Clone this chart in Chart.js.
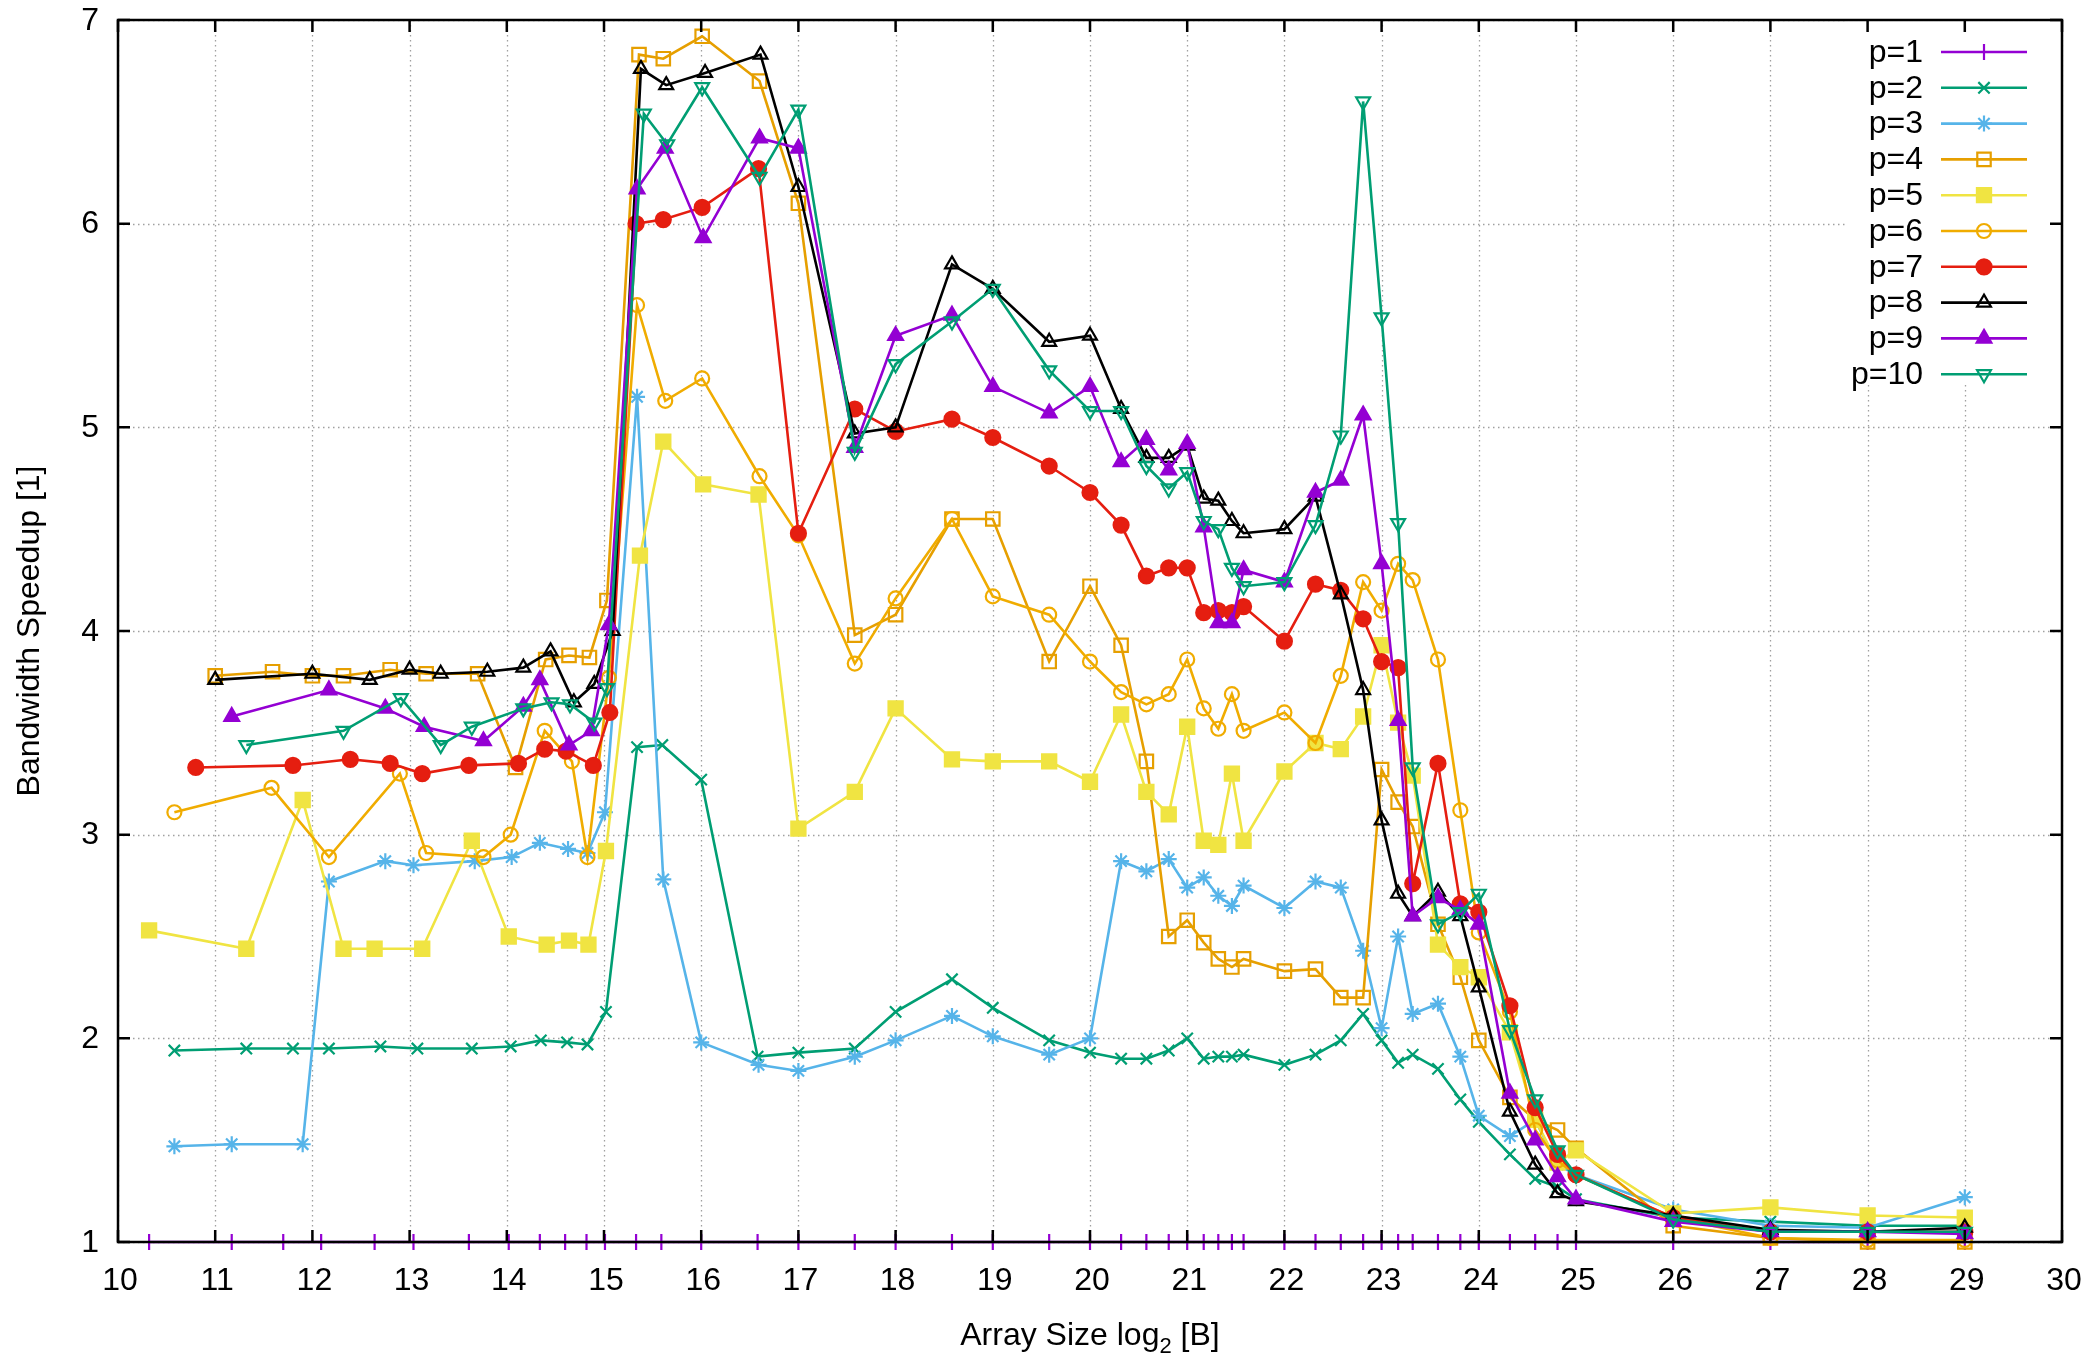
<!DOCTYPE html>
<html>
<head>
<meta charset="utf-8">
<title>Bandwidth Speedup</title>
<script src="https://cdn.jsdelivr.net/npm/chart.js@4.4.1/dist/chart.umd.min.js"></script>
<style>
    html, body { margin: 0; padding: 0; background: #fff; }
    #wrap { width: 2090px; height: 1354px; }
</style>
</head>
<body>
<div id="wrap"><canvas id="speedupChart" width="2090" height="1354"></canvas></div>
<script>
// x values are log2 of the array size in bytes
const sharedSizes = [17.00, 17.58, 18.00, 18.58, 19.00, 19.58, 20.00, 20.32, 20.58, 20.81,
    21.00, 21.17, 21.32, 21.46, 21.58, 22.00, 22.32, 22.58, 22.81, 23.00, 23.17, 23.32,
    23.58, 23.81, 24.00, 24.32, 24.58, 24.81, 25.00, 26, 27, 28, 29];

const sizesP1 = [10.32, 11.17, 11.70, 12.09, 12.64, 13.04, 13.61, 14.02, 14.34, 14.60, 14.82,
    15.01, 15.33, 15.59, 16.00, 16.58, ...sharedSizes];
const speedP1 = [1, 1, 1, 1, 1, 1, 1, 1, 1, 1, 1, 1, 1, 1, 1, 1,
    1, 1, 1, 1, 1, 1, 1, 1, 1, 1, 1, 1, 1, 1, 1, 1, 1, 1, 1, 1, 1, 1, 1, 1, 1, 1, 1, 1, 1, 1, 1, 1, 1];

const sizesP2 = [10.58, 11.32, 11.80, 12.17, 12.70, 13.08, 13.64, 14.04, 14.35, 14.62, 14.83,
    15.02, 15.34, 15.60, 16.00, 16.58, ...sharedSizes];
const speedP2 = [1.94, 1.95, 1.95, 1.95, 1.96, 1.95, 1.95, 1.96, 1.99, 1.98, 1.97, 2.13, 3.43, 3.44, 3.27, 1.91,
    1.93, 1.95, 2.13, 2.29, 2.15, 1.99, 1.93, 1.90, 1.90, 1.94, 2.00, 1.90, 1.91, 1.91, 1.92, 1.87,
    1.92, 1.99, 2.12, 1.99, 1.88, 1.92, 1.85, 1.70, 1.59, 1.43, 1.31, 1.27, 1.21, 1.12, 1.10, 1.08, 1.08];

const sizesP3 = [10.58, 11.17, 11.90, 12.17, 12.75, 13.04, 13.67, 14.05, 14.34, 14.63, 14.83,
    15.01, 15.34, 15.61, 16.00, 16.59, ...sharedSizes];
const speedP3 = [1.47, 1.48, 1.48, 2.77, 2.87, 2.85, 2.87, 2.89, 2.96, 2.93, 2.91, 3.11, 5.15, 2.78, 1.98, 1.87,
    1.84, 1.91, 1.99, 2.11, 2.01, 1.92, 2.00, 2.87, 2.82, 2.88, 2.74, 2.79, 2.70, 2.65, 2.75, 2.64,
    2.77, 2.74, 2.43, 2.05, 2.50, 2.12, 2.17, 1.91, 1.62, 1.52, 1.60, 1.38, 1.33, 1.16, 1.08, 1.07, 1.22];

const sizesP4 = [11.00, 11.59, 12.00, 12.32, 12.80, 13.17, 13.70, 14.09, 14.40, 14.64, 14.85,
    15.03, 15.36, 15.61, 16.01, 16.60, ...sharedSizes];
const speedP4 = [3.78, 3.80, 3.78, 3.78, 3.81, 3.79, 3.79, 3.33, 3.86, 3.88, 3.87, 4.15, 6.83, 6.81, 6.92, 6.70,
    6.10, 3.98, 4.08, 4.55, 4.55, 3.85, 4.22, 3.93, 3.36, 2.50, 2.58, 2.47, 2.39, 2.35, 2.39, 2.33,
    2.34, 2.20, 2.20, 3.32, 3.16, 3.04, 2.56, 2.30, 1.99, 1.71, 1.60, 1.55, 1.46, 1.08, 1.02, 1.00, 1.00];

const sizesP5 = [10.32, 11.32, 11.90, 12.32, 12.64, 13.13, 13.64, 14.02, 14.41, 14.64, 14.84,
    15.02, 15.37, 15.61, 16.02, 16.59, ...sharedSizes];
const speedP5 = [2.53, 2.44, 3.17, 2.44, 2.44, 2.44, 2.97, 2.50, 2.46, 2.48, 2.46, 2.92, 4.37, 4.93, 4.72, 4.67,
    3.03, 3.21, 3.62, 3.37, 3.36, 3.36, 3.26, 3.59, 3.21, 3.10, 3.53, 2.97, 2.95, 3.30, 2.97, 3.31,
    3.45, 3.42, 3.58, 3.93, 3.55, 3.29, 2.46, 2.35, 2.30, 2.03, 1.60, 1.39, 1.45, 1.14, 1.17, 1.13, 1.12];

const sizesP6 = [10.58, 11.58, 12.17, 12.90, 13.17, 13.76, 14.04, 14.39, 14.67, 14.83,
    15.05, 15.34, 15.63, 16.01, 16.60, ...sharedSizes];
const speedP6 = [3.11, 3.23, 2.89, 3.30, 2.91, 2.89, 3.00, 3.51, 3.36, 2.89, 3.77, 5.60, 5.13, 5.24, 4.76,
    4.47, 3.84, 4.16, 4.55, 4.17, 4.08, 3.85, 3.70, 3.64, 3.69, 3.86, 3.62, 3.52, 3.69, 3.51, 3.60,
    3.45, 3.78, 4.24, 4.10, 4.33, 4.25, 3.86, 3.12, 2.52, 2.13, 1.55, 1.40, 1.33, 1.12, 1.02, 1.01, 1.01];

const sizesP7 = [10.80, 11.80, 12.39, 12.80, 13.13, 13.61, 14.12, 14.39, 14.61, 14.89,
    15.06, 15.33, 15.61, 16.01, 16.59, ...sharedSizes];
const speedP7 = [3.33, 3.34, 3.37, 3.35, 3.30, 3.34, 3.35, 3.42, 3.41, 3.34, 3.60, 6.00, 6.02, 6.08, 6.27,
    4.48, 5.09, 4.98, 5.04, 4.95, 4.81, 4.68, 4.52, 4.27, 4.31, 4.31, 4.09, 4.10, 4.09, 4.12, 3.95,
    4.23, 4.20, 4.06, 3.85, 3.82, 2.76, 3.35, 2.66, 2.62, 2.16, 1.66, 1.43, 1.33, 1.12, 1.05, 1.05, 1.05];

const sizesP8 = [11.00, 12.00, 12.59, 13.00, 13.32, 13.80, 14.17, 14.45, 14.69, 14.90,
    15.09, 15.38, 15.64, 16.04, 16.61, ...sharedSizes];
const speedP8 = [3.76, 3.79, 3.76, 3.81, 3.79, 3.80, 3.82, 3.90, 3.65, 3.74, 4.00, 6.76, 6.68, 6.74, 6.83,
    6.18, 4.97, 5.00, 5.80, 5.68, 5.42, 5.45, 5.09, 4.85, 4.85, 4.91, 4.65, 4.64, 4.54, 4.48, 4.50,
    4.66, 4.18, 3.71, 3.07, 2.71, 2.60, 2.72, 2.60, 2.25, 1.64, 1.38, 1.24, 1.20, 1.13, 1.06, 1.05, 1.07];

const sizesP9 = [11.17, 12.17, 12.75, 13.15, 13.76, 14.17, 14.34, 14.64, 14.87,
    15.05, 15.34, 15.63, 16.02, 16.60, ...sharedSizes];
const speedP9 = [3.58, 3.71, 3.62, 3.53, 3.46, 3.63, 3.76, 3.44, 3.51, 4.03, 6.17, 6.37, 5.93, 6.42,
    6.37, 4.90, 5.45, 5.55, 5.20, 5.07, 5.20, 4.83, 4.94, 4.79, 4.92, 4.51, 4.04, 4.04, 4.30, 4.24,
    4.68, 4.74, 5.06, 4.33, 3.56, 2.60, 2.69, 2.63, 2.56, 1.73, 1.50, 1.32, 1.21, 1.10, 1.05, 1.05, 1.04];

const sizesP10 = [11.32, 12.32, 12.91, 13.32, 13.64, 14.17, 14.46, 14.65, 14.90,
    15.03, 15.41, 15.65, 16.01, 16.60, ...sharedSizes];
const speedP10 = [3.44, 3.51, 3.67, 3.44, 3.53, 3.62, 3.65, 3.64, 3.55, 3.72, 6.54, 6.39, 6.67, 6.23,
    6.56, 4.88, 5.31, 5.52, 5.68, 5.28, 5.08, 5.08, 4.81, 4.70, 4.78, 4.54, 4.50, 4.31, 4.22, 4.24,
    4.52, 4.96, 6.60, 5.54, 4.53, 3.33, 2.56, 2.62, 2.71, 2.04, 1.70, 1.45, 1.33, 1.11, 1.05, 1.05, 1.05];

const seriesLabels = ['p=1', 'p=2', 'p=3', 'p=4', 'p=5', 'p=6', 'p=7', 'p=8', 'p=9', 'p=10'];
const xTicks = [10, 11, 12, 13, 14, 15, 16, 17, 18, 19, 20, 21, 22, 23, 24, 25, 26, 27, 28, 29, 30];
const yTicks = [1, 2, 3, 4, 5, 6, 7];

(function() {
    'use strict';

    const FONT = '"Liberation Sans", Arial, sans-serif';
    const allSizes = [sizesP1, sizesP2, sizesP3, sizesP4, sizesP5, sizesP6, sizesP7, sizesP8, sizesP9, sizesP10];
    const allSpeed = [speedP1, speedP2, speedP3, speedP4, speedP5, speedP6, speedP7, speedP8, speedP9, speedP10];

    // gnuplot-like line types
    const styles = [
        { color: '#9400d3', style: 'cross',    radius: 8,   fill: false },
        { color: '#009e73', style: 'crossRot', radius: 8,   fill: false },
        { color: '#56b4e9', style: 'star',     radius: 8,   fill: false },
        { color: '#e69f00', style: 'rect',     radius: 9.5, fill: false },
        { color: '#f0e442', style: 'rect',     radius: 10,  fill: true },
        { color: '#f0ac00', style: 'circle',   radius: 7,   fill: false },
        { color: '#e51e10', style: 'circle',   radius: 7.5, fill: true },
        { color: '#000000', style: 'triangle', radius: 8,   fill: false },
        { color: '#9400d3', style: 'triangle', radius: 8.5, fill: true },
        { color: '#009e73', style: 'triangle', radius: 8,   fill: false, rotation: 180 }
    ];

    const datasets = seriesLabels.map((label, i) => {
        const s = styles[i];
        return {
            label,
            data: allSizes[i].map((x, j) => ({ x, y: allSpeed[i][j] })),
            showLine: true,
            borderColor: s.color,
            backgroundColor: s.color,
            borderWidth: 2.6,
            pointStyle: s.style,
            pointRadius: s.radius,
            pointHoverRadius: s.radius,
            pointBorderWidth: 2.2,
            pointBorderColor: s.color,
            pointBackgroundColor: s.fill ? s.color : 'rgba(0,0,0,0)',
            pointRotation: s.rotation || 0,
            tension: 0,
            clip: false,
            order: 10 - i
        };
    });

    const frame = {
        id: 'gnuplotFrame',
        beforeDatasetsDraw(chart) {
            const { ctx, chartArea: a, scales } = chart;
            ctx.save();
            ctx.strokeStyle = '#a0a0a0';
            ctx.lineWidth = 1.3;
            ctx.setLineDash([1.5, 3.5]);
            xTicks.forEach(v => {
                const px = Math.round(scales.x.getPixelForValue(v)) + 0.5;
                ctx.beginPath(); ctx.moveTo(px, a.top); ctx.lineTo(px, a.bottom); ctx.stroke();
            });
            yTicks.forEach(v => {
                const py = Math.round(scales.y.getPixelForValue(v)) + 0.5;
                ctx.beginPath(); ctx.moveTo(a.left, py); ctx.lineTo(a.right, py); ctx.stroke();
            });
            ctx.setLineDash([]);
            // opaque key box
            ctx.fillStyle = '#fff';
            ctx.fillRect(a.right - 215, a.top, 215, 364);
            ctx.restore();
        },
        afterDatasetsDraw(chart) {
            const { ctx, chartArea: a, scales } = chart;
            ctx.save();
            ctx.strokeStyle = '#000';
            ctx.lineWidth = 2.5;
            ctx.strokeRect(a.left, a.top, a.right - a.left, a.bottom - a.top);

            const tl = 12;
            ctx.beginPath();
            xTicks.forEach(v => {
                const px = scales.x.getPixelForValue(v);
                ctx.moveTo(px, a.bottom); ctx.lineTo(px, a.bottom - tl);
                ctx.moveTo(px, a.top); ctx.lineTo(px, a.top + tl);
            });
            yTicks.forEach(v => {
                const py = scales.y.getPixelForValue(v);
                ctx.moveTo(a.left, py); ctx.lineTo(a.left + tl, py);
                ctx.moveTo(a.right, py); ctx.lineTo(a.right - tl, py);
            });
            ctx.stroke();

            // tick labels
            ctx.fillStyle = '#000';
            ctx.font = '32px ' + FONT;
            ctx.textBaseline = 'middle';
            ctx.textAlign = 'center';
            xTicks.forEach(v => {
                ctx.fillText(String(v), scales.x.getPixelForValue(v) + 2, a.bottom + 39);
            });
            ctx.textAlign = 'right';
            yTicks.forEach(v => {
                ctx.fillText(String(v), a.left - 19, scales.y.getPixelForValue(v) + 1);
            });

            // key
            ctx.textAlign = 'right';
            ctx.textBaseline = 'middle';
            chart.data.datasets.forEach((ds, i) => {
                const y = a.top + 32 + i * 35.8;
                ctx.fillStyle = '#000';
                ctx.fillText(ds.label, a.right - 139, y + 1);
                ctx.strokeStyle = ds.borderColor;
                ctx.lineWidth = ds.borderWidth;
                ctx.beginPath(); ctx.moveTo(a.right - 121, y); ctx.lineTo(a.right - 35, y); ctx.stroke();
                ctx.lineWidth = ds.pointBorderWidth;
                ctx.fillStyle = ds.pointBackgroundColor;
                if (Chart.helpers && Chart.helpers.drawPoint) {
                    Chart.helpers.drawPoint(ctx, {
                        pointStyle: ds.pointStyle,
                        rotation: ds.pointRotation,
                        radius: ds.pointRadius,
                        borderWidth: ds.pointBorderWidth
                    }, a.right - 78, y);
                }
            });

            // axis titles
            ctx.fillStyle = '#000';
            ctx.font = '32px ' + FONT;
            ctx.textAlign = 'center';
            ctx.textBaseline = 'middle';
            ctx.save();
            ctx.translate(30, (a.top + a.bottom) / 2);
            ctx.rotate(-Math.PI / 2);
            ctx.fillText('Bandwidth Speedup [1]', 0, 0);
            ctx.restore();

            const partA = 'Array Size log', partB = '2', partC = ' [B]';
            ctx.textAlign = 'left';
            ctx.textBaseline = 'alphabetic';
            ctx.font = '32px ' + FONT;
            const wA = ctx.measureText(partA).width, wC = ctx.measureText(partC).width;
            ctx.font = '22px ' + FONT;
            const wB = ctx.measureText(partB).width;
            const x0 = (a.left + a.right) / 2 - (wA + wB + wC) / 2;
            const base = 1345;
            ctx.font = '32px ' + FONT;
            ctx.fillText(partA, x0, base);
            ctx.font = '22px ' + FONT;
            ctx.fillText(partB, x0 + wA, base + 8);
            ctx.font = '32px ' + FONT;
            ctx.fillText(partC, x0 + wA + wB, base);
            ctx.restore();
        }
    };

    new Chart(document.getElementById('speedupChart'), {
        type: 'scatter',
        data: { datasets },
        options: {
            responsive: false,
            animation: false,
            devicePixelRatio: 1,
            layout: { padding: { top: 20, right: 28, left: 0, bottom: 0 } },
            plugins: {
                legend: { display: false },
                tooltip: { enabled: false }
            },
            scales: {
                x: {
                    type: 'linear',
                    min: 10,
                    max: 30,
                    ticks: { display: false },
                    grid: { display: false },
                    border: { display: false },
                    afterFit: s => { s.height = 112; }
                },
                y: {
                    type: 'linear',
                    min: 1,
                    max: 7,
                    ticks: { display: false },
                    grid: { display: false },
                    border: { display: false },
                    afterFit: s => { s.width = 118; }
                }
            }
        },
        plugins: [frame]
    });
})();
</script>
</body>
</html>
